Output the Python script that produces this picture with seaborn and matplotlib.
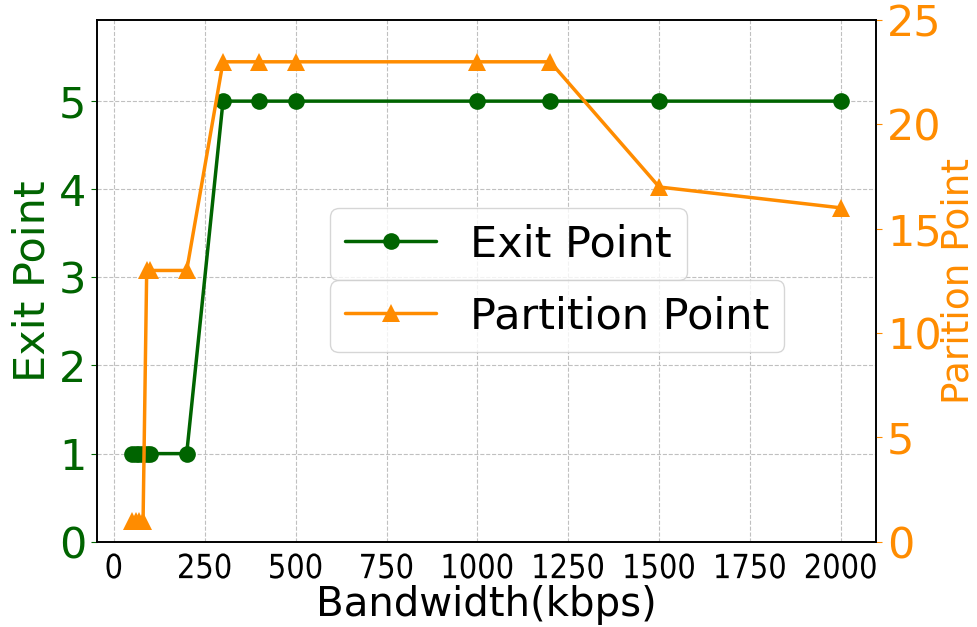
import matplotlib
matplotlib.use('Agg')
import matplotlib.pyplot as plt
import matplotlib.patheffects as pe
from matplotlib.transforms import Affine2D
import seaborn as sns

sns.set_style('white')
plt.rcParams['font.family'] = ['DejaVu Sans']
plt.rcParams['text.color'] = 'black'
plt.rcParams['axes.labelcolor'] = 'black'
plt.rcParams['xtick.color'] = 'black'
plt.rcParams['ytick.color'] = 'black'

# data
bandwidth = [50, 60, 70, 80, 90, 100, 200, 300, 400, 500, 1000, 1200, 1500, 2000]
exit_point = [1, 1, 1, 1, 1, 1, 1, 5, 5, 5, 5, 5, 5, 5]
partition_point = [1, 1, 1, 1, 13, 13, 13, 23, 23, 23, 23, 23, 17, 16]

green = 'darkgreen'
orange = 'darkorange'


# squeeze text horizontally (the x tick labels look condensed)
class HSqueeze(pe.AbstractPathEffect):
    def __init__(self, sx):
        super().__init__()
        self.sx = sx

    def draw_path(self, renderer, gc, tpath, affine, rgbFace=None):
        v = affine.transform(tpath.vertices)
        cx = (v[:, 0].min() + v[:, 0].max()) / 2
        squeeze = Affine2D().translate(-cx, 0).scale(self.sx, 1).translate(cx, 0)
        renderer.draw_path(gc, tpath, affine + squeeze, rgbFace)


fig = plt.figure(figsize=(9.77, 6.27), dpi=100)
ax1 = fig.add_axes([0.099, 0.136, 0.798, 0.832])
ax2 = ax1.twinx()

sns.lineplot(x=bandwidth, y=exit_point, ax=ax1, color=green, marker='o',
             markersize=12, linewidth=2.5, markeredgewidth=0, label='Exit Point', legend=False)
sns.lineplot(x=bandwidth, y=partition_point, ax=ax2, color=orange, marker='^',
             markersize=13, linewidth=2.5, markeredgewidth=0, label='Partition Point', legend=False)

ax1.set_ylim(0, 5.92)
ax2.set_ylim(0, 25)
ax1.set_xticks(range(0, 2001, 250))
ax1.set_yticks(range(0, 6))
ax2.set_yticks(range(0, 26, 5))

ax1.set_xlabel('Bandwidth(kbps)', fontsize=29, labelpad=0)
ax1.set_ylabel('Exit Point', fontsize=31, color=green, labelpad=4)
ax2.set_ylabel('Parition Point', fontsize=27, color=orange, labelpad=-1)

ax1.tick_params(axis='x', labelsize=24, length=4, colors='black')
for lab in ax1.get_xticklabels():
    lab.set_path_effects([HSqueeze(0.87)])
ax1.tick_params(axis='y', labelsize=31, colors=green, length=4)
ax2.tick_params(axis='y', labelsize=31, colors=orange, length=4)

ax1.grid(True, linestyle='--', color='silver', linewidth=0.8)
for ax in (ax1, ax2):
    for s in ax.spines.values():
        s.set_color('black')
        s.set_linewidth(1.2)

h1, l1 = ax1.get_legend_handles_labels()
h2, l2 = ax2.get_legend_handles_labels()
ax1.legend(h1, l1, loc='lower left', bbox_to_anchor=(0.338, 0.553),
           bbox_transform=fig.transFigure, borderaxespad=0, fontsize=31,
           handlelength=2.1, borderpad=0.35)
ax2.legend(h2, l2, loc='upper left', bbox_to_anchor=(0.338, 0.553),
           bbox_transform=fig.transFigure, borderaxespad=0, fontsize=31,
           handlelength=2.1, borderpad=0.35)

fig.savefig('out.png', dpi=100)
